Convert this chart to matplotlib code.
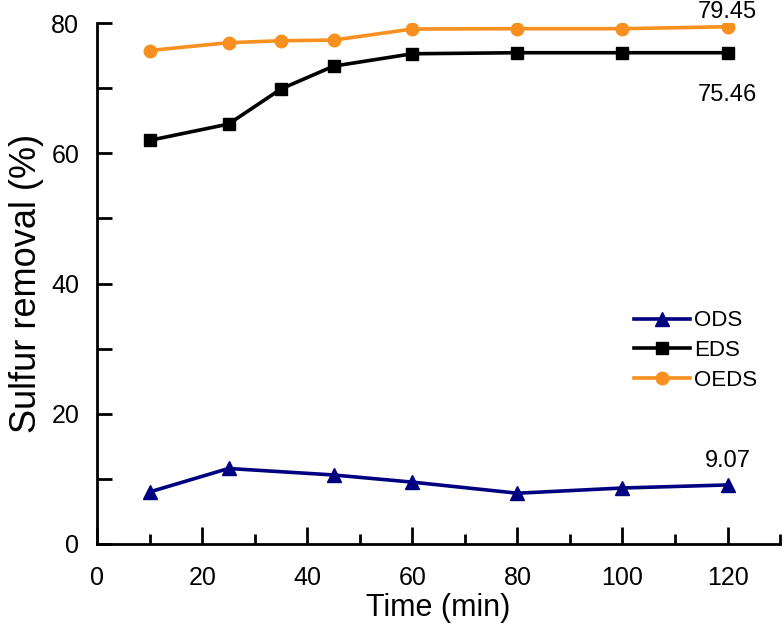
import matplotlib
matplotlib.use('Agg')
import matplotlib.pyplot as plt
from matplotlib.ticker import MultipleLocator

plt.rcParams['font.family'] = ['Liberation Sans', 'DejaVu Sans']

# data
t_ods = [10, 25, 45, 60, 80, 100, 120]
ods = [8.0, 11.6, 10.6, 9.5, 7.8, 8.6, 9.07]
t_eds = [10, 25, 35, 45, 60, 80, 100, 120]
eds = [62.0, 64.5, 69.9, 73.4, 75.3, 75.46, 75.46, 75.46]
t_oeds = [10, 25, 35, 45, 60, 80, 100, 120]
oeds = [75.8, 77.0, 77.3, 77.4, 79.1, 79.15, 79.15, 79.45]

fig = plt.figure(figsize=(7.84, 6.26), dpi=100)
ax = fig.add_axes([0.124, 0.131, 0.871, 0.832])

ax.plot(t_ods, ods, color='#000080', lw=2.6, marker='^', ms=10, label='ODS')
ax.plot(t_eds, eds, color='black', lw=2.6, marker='s', ms=8, label='EDS')
ax.plot(t_oeds, oeds, color='#F7901E', lw=2.6, marker='o', ms=9, label='OEDS')

# end-point value labels
ax.annotate('79.45', (t_oeds[-1], oeds[-1]), xytext=(0, 6), textcoords='offset points',
            ha='center', va='baseline', fontsize=17)
ax.annotate('75.46', (t_eds[-1], eds[-1]), xytext=(0, -35), textcoords='offset points',
            ha='center', va='baseline', fontsize=17)
ax.annotate('9.07', (t_ods[-1], ods[-1]), xytext=(0, 13), textcoords='offset points',
            ha='center', va='baseline', fontsize=17)

ax.set_xlim(0, 130)
ax.set_ylim(0, 80)
ax.xaxis.set_minor_locator(MultipleLocator(10))
ax.yaxis.set_major_locator(MultipleLocator(20))
ax.yaxis.set_minor_locator(MultipleLocator(10))
ax.set_xticks(range(0, 121, 20))

ax.spines['top'].set_visible(False)
ax.spines['right'].set_visible(False)
for s in ['left', 'bottom']:
    ax.spines[s].set_linewidth(2)

ax.tick_params(axis='both', which='both', direction='in', width=2, labelsize=18)
ax.tick_params(axis='x', which='major', length=12, pad=16)
ax.tick_params(axis='x', which='minor', length=7)
ax.tick_params(axis='y', which='major', length=11, pad=13)
ax.tick_params(axis='y', which='minor', length=11)

ax.set_xlabel('Time (min)', fontsize=22, labelpad=2)
ax.set_ylabel('Sulfur removal (%)', fontsize=26, labelpad=5)

ax.legend(loc='upper left', bbox_to_anchor=(0.77, 0.47), frameon=False, fontsize=16,
          handlelength=2.5, labelspacing=0.4, handletextpad=0.2, borderpad=0)

fig.savefig('out.png', dpi=100)
